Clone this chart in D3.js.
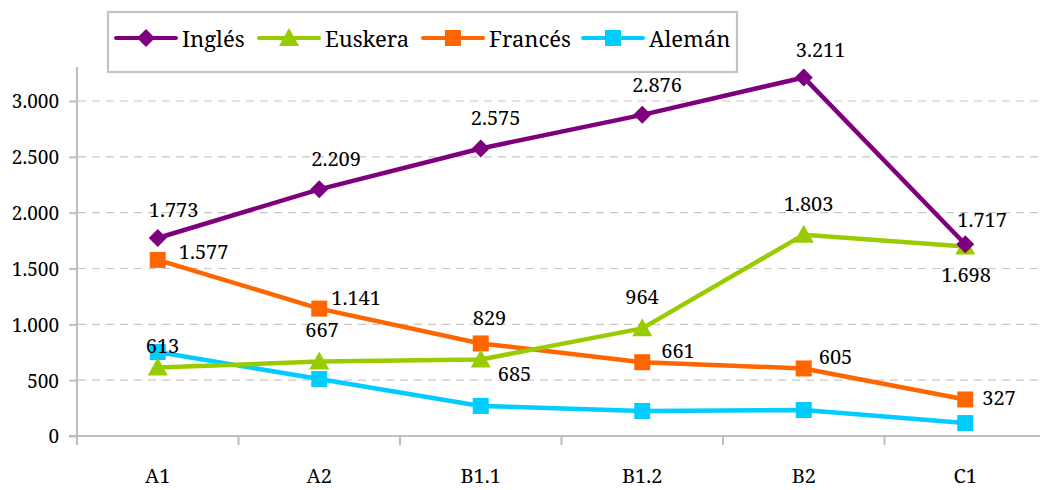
<!DOCTYPE html>
<html><head><meta charset="utf-8">
<script src="https://cdn.jsdelivr.net/npm/d3@7"></script>
<style>html,body{margin:0;padding:0;background:#fff;}</style>
</head>
<body><svg id="c" width="1040" height="490"></svg>
<script>
const categories = ["A1","A2","B1.1","B1.2","B2","C1"];
const seriesNames = ["Inglés","Euskera","Francés","Alemán"];
const ingles  = [1773, 2209, 2575, 2876, 3211, 1717];
const euskera = [613, 667, 685, 964, 1803, 1698];
const frances = [1577, 1141, 829, 661, 605, 327];
const aleman  = [752, 510, 269, 224, 233, 116];
const yTicks  = [0, 500, 1000, 1500, 2000, 2500, 3000];

// styling (separate from data)
const FONT = '"Noto Serif", serif';
const colors  = ["#7F007F", "#99CC00", "#FF6600", "#00CCFF"];
const shapes  = ["diamond", "triangle", "square", "square"];
const labelOffsets = [
  [[-9,-21],[-8,-23],[-10,-23],[-10,-23],[-8,-20],[-8,-17]],
  [[-12,-15],[-14,-25],[17,21],[-17,-24],[-20,-24],[-24,36]],
  [[21,-1],[12,-4],[-8,-18],[19,-4],[15,-4],[17,6]],
  null
];

const W = 1040;
const svg = d3.select("#c");
const fmt = v => d3.format(",")(v).replace(/,/g, ".");

const x = d3.scaleBand().domain(categories).range([77, 1046]);
const y = d3.scaleLinear().domain([0, 3000]).range([436, 101]);
const yTop = 67;

// gridlines
svg.append("g").selectAll("line").data(yTicks.filter(d => d > 0)).join("line")
  .attr("x1", 78).attr("x2", W).attr("y1", d => y(d)).attr("y2", d => y(d))
  .attr("stroke", "#c8c8c8").attr("stroke-width", 1.2).attr("stroke-dasharray", "8,6");

// y axis
const yAxis = d3.axisLeft(y).tickValues(yTicks).tickSize(8).tickPadding(10).tickFormat(fmt);
const gy = svg.append("g").attr("transform", "translate(77,0)").call(yAxis);
gy.select(".domain").remove();
gy.append("line").attr("x1", 0).attr("x2", 0).attr("y1", yTop).attr("y2", 445)
  .attr("stroke", "#bfbfbf").attr("stroke-width", 2.2);
gy.selectAll(".tick line").attr("stroke", "#bfbfbf").attr("stroke-width", 2);
gy.selectAll(".tick text").style("font-size", "19px").style("font-family", FONT).attr("fill", "#000").attr("dy", "0.36em");

// x axis
const xAxis = d3.axisBottom(x).tickSize(0).tickPadding(41);
const gx = svg.append("g").attr("transform", "translate(0,436)").call(xAxis);
gx.select(".domain").remove();
gx.append("line").attr("x1", 69).attr("x2", W).attr("y1", 0).attr("y2", 0)
  .attr("stroke", "#bfbfbf").attr("stroke-width", 2.2);
gx.selectAll(".tick text").style("font-size", "20px").style("font-family", FONT).attr("fill", "#000").attr("dy", "0.3em");
const bounds = categories.map(c => x(c)).concat([x(categories[categories.length-1]) + x.bandwidth()]);
gx.append("g").selectAll("line").data(bounds).join("line")
  .attr("x1", d => d).attr("x2", d => d).attr("y1", 0).attr("y2", 9)
  .attr("stroke", "#bfbfbf").attr("stroke-width", 2);

const allSeries = [ingles, euskera, frances, aleman];
const cx = c => x(c) + x.bandwidth() / 2;

function marker(g, shape, color, px, py) {
  if (shape === "diamond") {
    g.append("path").attr("d", `M${px},${py-9}L${px+9},${py}L${px},${py+9}L${px-9},${py}Z`).attr("fill", color);
  } else if (shape === "triangle") {
    g.append("path").attr("d", `M${px},${py-10}L${px+10},${py+8}L${px-10},${py+8}Z`).attr("fill", color);
  } else {
    g.append("rect").attr("x", px-8).attr("y", py-8).attr("width", 16).attr("height", 16).attr("fill", color);
  }
}

const line = d3.line().x((d, i) => cx(categories[i])).y(d => y(d));
[3, 2, 1, 0].forEach(si => {
  const vals = allSeries[si];
  const g = svg.append("g");
  g.append("path").datum(vals).attr("d", line).attr("fill", "none")
    .attr("stroke", colors[si]).attr("stroke-width", 4.5).attr("stroke-linejoin", "round");
  vals.forEach((v, i) => marker(g, shapes[si], colors[si], cx(categories[i]), y(v)));
});
// data labels
[0, 1, 2].forEach(si => {
  const vals = allSeries[si];
  svg.append("g").selectAll("text").data(vals).join("text")
    .attr("x", (d, i) => cx(categories[i]) + labelOffsets[si][i][0])
    .attr("y", (d, i) => y(d) + labelOffsets[si][i][1])
    .style("font-size", "20px").style("font-family", FONT).attr("fill", "#000")
    .text(d => fmt(d));
});

// legend
const lg = svg.append("g");
lg.append("rect").attr("x", 108).attr("y", 12).attr("width", 629).attr("height", 60)
  .attr("fill", "#fff").attr("stroke", "#c4c4c4").attr("stroke-width", 2.2);
const legX = [116, 259, 423, 583];
seriesNames.forEach((n, si) => {
  const g = lg.append("g");
  g.append("line").attr("x1", legX[si]).attr("x2", legX[si] + 60).attr("y1", 38).attr("y2", 38)
    .attr("stroke", colors[si]).attr("stroke-width", 4).attr("stroke-linecap", "round");
  marker(g, shapes[si], colors[si], legX[si] + 30, 38);
  g.append("text").attr("x", legX[si] + 66).attr("y", 47)
    .style("font-size", "22px").style("font-family", FONT).attr("fill", "#000").text(n);
});
</script></body></html>
